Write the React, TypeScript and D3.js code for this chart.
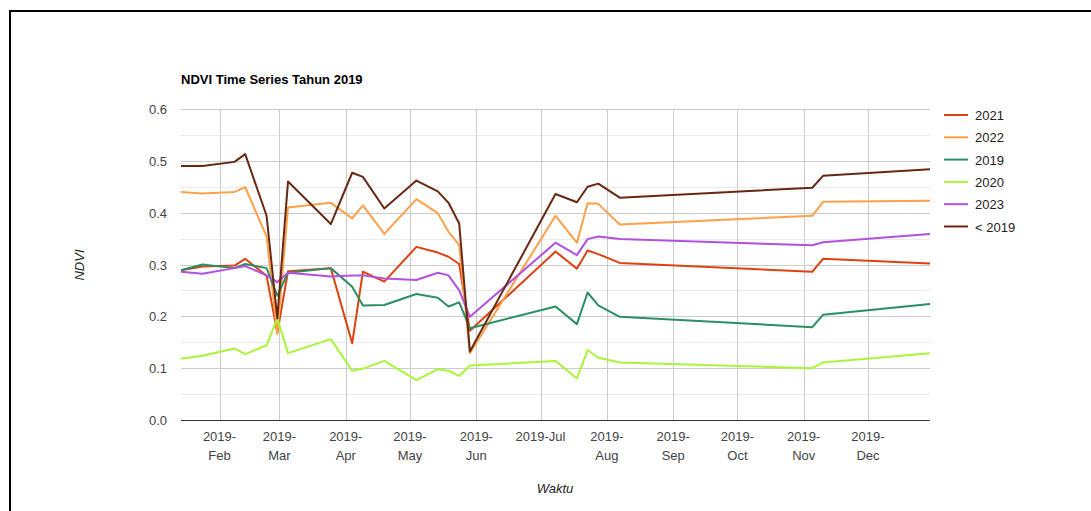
import React, { useRef, useEffect } from 'react';
import * as d3 from 'd3';

// acquisition dates (2019)
const dates = [
  '2019-01-14', '2019-01-24', '2019-02-08', '2019-02-13', '2019-02-23', '2019-02-28',
  '2019-03-05', '2019-03-25', '2019-04-04', '2019-04-09', '2019-04-19', '2019-05-04',
  '2019-05-14', '2019-05-19', '2019-05-24', '2019-05-29', '2019-07-08', '2019-07-18',
  '2019-07-23', '2019-07-28', '2019-08-07', '2019-11-05', '2019-11-10', '2019-12-30'
];

const seriesNames = ['2021', '2022', '2019', '2020', '2023', '< 2019'];
const seriesColors = ['#dc4312', '#ffa04a', '#2b8f63', '#a9f53a', '#b250e0', '#682812'];

const ndvi2021 = [0.289, 0.296, 0.298, 0.311, 0.278, 0.168, 0.287, 0.293, 0.148, 0.286, 0.267, 0.334,
  0.323, 0.315, 0.301, 0.172, 0.325, 0.292, 0.327, 0.320, 0.303, 0.286, 0.311, 0.302];
const ndvi2022 = [0.440, 0.437, 0.440, 0.449, 0.354, 0.166, 0.410, 0.419, 0.389, 0.414, 0.359, 0.426,
  0.399, 0.363, 0.338, 0.129, 0.394, 0.342, 0.418, 0.417, 0.377, 0.394, 0.421, 0.423];
const ndvi2019 = [0.289, 0.300, 0.293, 0.301, 0.293, 0.240, 0.284, 0.293, 0.257, 0.221, 0.222, 0.243,
  0.236, 0.219, 0.227, 0.177, 0.219, 0.185, 0.246, 0.221, 0.199, 0.179, 0.203, 0.224];
const ndvi2020 = [0.118, 0.124, 0.138, 0.127, 0.144, 0.196, 0.129, 0.156, 0.095, 0.099, 0.114, 0.077,
  0.098, 0.095, 0.085, 0.105, 0.114, 0.080, 0.135, 0.120, 0.111, 0.100, 0.111, 0.129];
const ndvi2023 = [0.286, 0.282, 0.293, 0.297, 0.279, 0.266, 0.284, 0.277, 0.279, 0.279, 0.273, 0.270,
  0.284, 0.279, 0.250, 0.199, 0.342, 0.318, 0.349, 0.354, 0.349, 0.337, 0.343, 0.359];
const ndviBefore2019 = [0.490, 0.490, 0.498, 0.513, 0.394, 0.196, 0.460, 0.378, 0.477, 0.469, 0.408, 0.462,
  0.441, 0.419, 0.379, 0.132, 0.436, 0.420, 0.450, 0.456, 0.429, 0.448, 0.471, 0.484];

const yTicks = [0, 0.1, 0.2, 0.3, 0.4, 0.5, 0.6];
const monthLabels = [
  ['2019-', 'Feb'], ['2019-', 'Mar'], ['2019-', 'Apr'], ['2019-', 'May'], ['2019-', 'Jun'],
  ['2019-Jul'], ['2019-', 'Aug'], ['2019-', 'Sep'], ['2019-', 'Oct'], ['2019-', 'Nov'], ['2019-', 'Dec']
];

const App = () => {
  const svgRef = useRef<SVGSVGElement>(null);

  useEffect(() => {
    const width = 1091;
    const height = 511;
    const left = 181, right = 930, top = 109, bottom = 420;
    const font = '"Liberation Sans", Arial, sans-serif';

    const svg = d3.select(svgRef.current)
      .attr('width', width)
      .attr('height', height);
    svg.selectAll('*').remove();

    svg.append('rect').attr('width', width).attr('height', height).attr('fill', 'white');
    // frame
    svg.append('rect')
      .attr('x', 10).attr('y', 11)
      .attr('width', width + 20).attr('height', height + 20)
      .attr('fill', 'none').attr('stroke', '#000').attr('stroke-width', 2);

    const parse = d3.utcParse('%Y-%m-%d');
    const xDates = dates.map(d => parse(d) as Date);

    const x = d3.scaleUtc()
      .domain(d3.extent(xDates) as [Date, Date])
      .range([left, right]);
    const y = d3.scaleLinear().domain([0, 0.6]).range([bottom, top]);

    // minor horizontal gridlines
    const minor = d3.range(0.05, 0.6, 0.1);
    svg.append('g').selectAll('line').data(minor).enter().append('line')
      .attr('x1', left).attr('x2', right)
      .attr('y1', d => Math.round(y(d)) + 0.5).attr('y2', d => Math.round(y(d)) + 0.5)
      .attr('stroke', '#ebebeb');

    // major horizontal gridlines
    svg.append('g').selectAll('line').data(yTicks.slice(1)).enter().append('line')
      .attr('x1', left).attr('x2', right)
      .attr('y1', d => Math.round(y(d)) + 0.5).attr('y2', d => Math.round(y(d)) + 0.5)
      .attr('stroke', '#cccccc');

    // vertical month gridlines
    const months = d3.utcMonth.range(new Date(Date.UTC(2019, 1, 1)), new Date(Date.UTC(2019, 11, 2)));
    svg.append('g').selectAll('line').data(months).enter().append('line')
      .attr('x1', d => Math.round(x(d)) + 0.5).attr('x2', d => Math.round(x(d)) + 0.5)
      .attr('y1', top).attr('y2', bottom)
      .attr('stroke', '#cccccc');

    // baseline
    svg.append('line')
      .attr('x1', left).attr('x2', right)
      .attr('y1', Math.round(y(0)) + 0.5).attr('y2', Math.round(y(0)) + 0.5)
      .attr('stroke', '#333');

    // y tick labels
    svg.append('g').selectAll('text').data(yTicks).enter().append('text')
      .attr('x', 167).attr('y', d => y(d) + 5)
      .attr('text-anchor', 'end')
      .attr('font-family', font).attr('font-size', 13).attr('fill', '#444')
      .text(d => d3.format('.1f')(d));

    // x tick labels
    const xl = svg.append('g').selectAll('text').data(months).enter().append('text')
      .attr('text-anchor', 'middle')
      .attr('font-family', font).attr('font-size', 13).attr('fill', '#444');
    xl.each(function (d, i) {
      const t = d3.select(this);
      monthLabels[i].forEach((s, j) => {
        t.append('tspan').attr('x', x(d)).attr('y', 441 + j * 19).text(s);
      });
    });

    // series
    const allSeries = [ndvi2021, ndvi2022, ndvi2019, ndvi2020, ndvi2023, ndviBefore2019];
    const line = d3.line<number>()
      .x((_, i) => x(xDates[i]))
      .y(d => y(d));
    allSeries.forEach((vals, k) => {
      svg.append('path')
        .datum(vals)
        .attr('fill', 'none')
        .attr('stroke', seriesColors[k])
        .attr('stroke-width', 2)
        .attr('stroke-linejoin', 'round')
        .attr('d', line);
    });

    // legend
    const lg = svg.append('g').selectAll('g').data(seriesNames).enter().append('g')
      .attr('transform', (_, i) => `translate(944, ${115 + i * 22.3})`);
    lg.append('line').attr('x1', 0).attr('x2', 24).attr('y1', 0).attr('y2', 0)
      .attr('stroke', (_, i) => seriesColors[i]).attr('stroke-width', 2);
    lg.append('text').attr('x', 31).attr('y', 5)
      .attr('font-family', font).attr('font-size', 13).attr('fill', '#222')
      .text(d => d);

    // title
    svg.append('text')
      .attr('x', left).attr('y', 84)
      .attr('font-family', font).attr('font-size', 13).attr('font-weight', 'bold')
      .attr('fill', '#000')
      .text('NDVI Time Series Tahun 2019');

    // axis titles
    svg.append('text')
      .attr('transform', 'translate(84, 265) rotate(-90)')
      .attr('text-anchor', 'middle')
      .attr('font-family', font).attr('font-size', 13).attr('font-style', 'italic')
      .attr('fill', '#222')
      .text('NDVI');
    svg.append('text')
      .attr('x', 555).attr('y', 493)
      .attr('text-anchor', 'middle')
      .attr('font-family', font).attr('font-size', 13).attr('font-style', 'italic')
      .attr('fill', '#222')
      .text('Waktu');
  }, []);

  return (
    <svg ref={svgRef} style={{ position: 'absolute', left: 0, top: 0, display: 'block' }}></svg>
  );
};

export default App;
